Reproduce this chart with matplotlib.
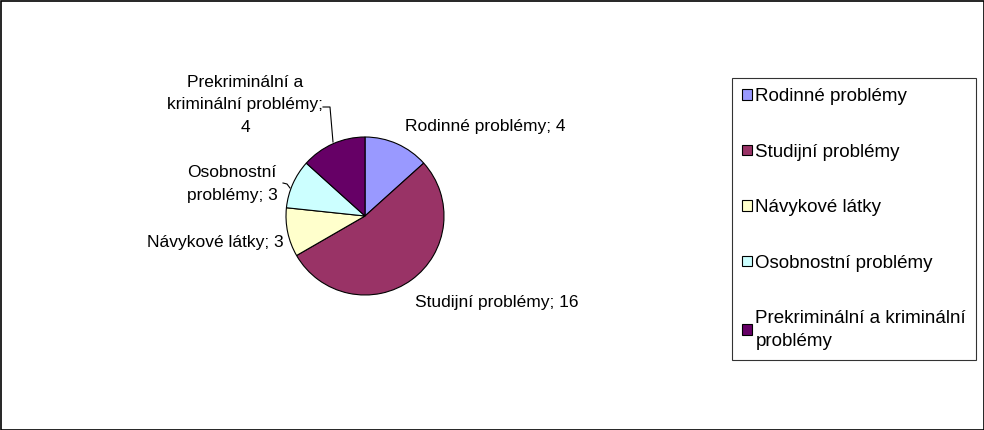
import matplotlib
matplotlib.use('Agg')
import matplotlib.pyplot as plt
from matplotlib.patches import Rectangle

categories = ['Rodinné problémy', 'Studijní problémy', 'Návykové látky',
              'Osobnostní problémy', 'Prekriminální a kriminální problémy']
values = [4, 16, 3, 3, 4]
colors = ['#9999FF', '#993366', '#FFFFCC', '#CCFFFF', '#660066']
legend_labels = ['Rodinné problémy', 'Studijní problémy', 'Návykové látky',
                 'Osobnostní problémy', 'Prekriminální a kriminální\nproblémy']

plt.rcParams['font.family'] = ['Liberation Sans', 'DejaVu Sans']
W, H = 984, 430
fig = plt.figure(figsize=(W / 100, H / 100), dpi=100)
ax = fig.add_axes([0, 0, 1, 1])
ax.set_xlim(0, W)
ax.set_ylim(0, H)
ax.axis('off')

# pie, clockwise from 12 o'clock
wedges, _ = ax.pie(values, colors=colors, startangle=90, counterclock=False,
                   center=(365, H - 216), radius=79,
                   wedgeprops=dict(edgecolor='black', linewidth=0.8))
ax.set_xlim(0, W)
ax.set_ylim(0, H)

fs = 12.5
ls = 1.6
def lbl(i):
    return '{}; {}'.format(categories[i], values[i])

ax.text(405, H - 127, lbl(0), fontsize=fs, ha='left', va='center')
ax.text(415, H - 303, lbl(1), fontsize=fs, ha='left', va='center')
ax.text(284, H - 243, lbl(2), fontsize=fs, ha='right', va='center')
ax.text(232, H - 184, 'Osobnostní\nproblémy; {}'.format(values[3]),
        fontsize=fs, ha='center', va='center', linespacing=ls)
ax.text(245, H - 105, 'Prekriminální a\nkriminální problémy;\n{}'.format(values[4]),
        fontsize=fs, ha='center', va='center', linespacing=ls)

# leader lines
ax.plot([323, 330, 333], [H - 107, H - 107, H - 142], color='black', lw=0.8)
ax.plot([283, 287, 290], [H - 183, H - 184, H - 188], color='black', lw=0.8)

leg = ax.legend(wedges, legend_labels, loc='upper left',
                bbox_to_anchor=(732 / W, 1 - 78 / H), fontsize=13.5,
                frameon=True, fancybox=False, handlelength=0.5, handleheight=0.5,
                handletextpad=0.2, labelspacing=2.05, borderpad=0.55,
                borderaxespad=0)
leg.get_frame().set_edgecolor('black')
leg.get_frame().set_linewidth(0.8)
for t in leg.get_texts():
    t.set_linespacing(1.45)

# outer chart border
ax.add_patch(Rectangle((0.5, 0.5), W - 1, H - 1, fill=False,
                       edgecolor='black', lw=1.2, clip_on=False))

fig.savefig('out.png', dpi=100)
